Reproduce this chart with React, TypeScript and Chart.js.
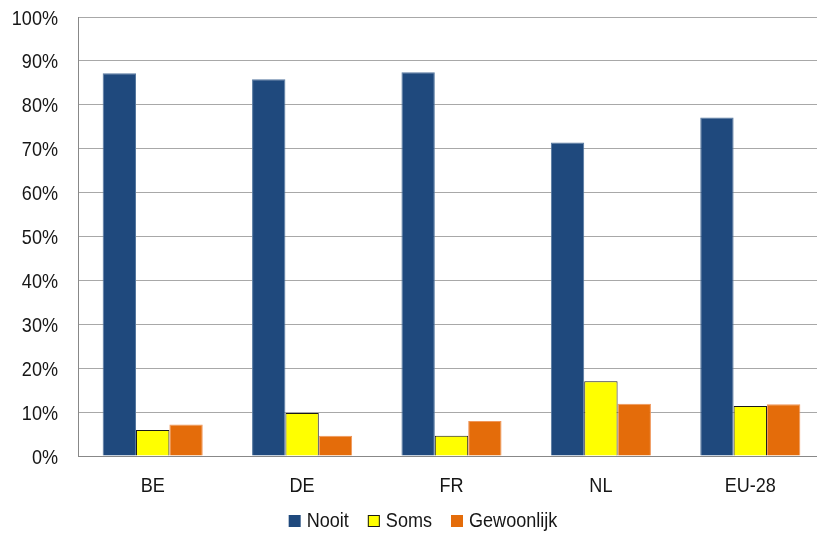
import React, { useEffect, useRef } from "react";
import { Chart, registerables } from "chart.js";

Chart.register(...registerables);

const categories = ["BE", "DE", "FR", "NL", "EU-28"];
const nooit = [87.2, 85.8, 87.4, 71.4, 77.1];
const soms = [5.9, 9.8, 4.6, 17.0, 11.4];
const gewoonlijk = [7.2, 4.6, 8.0, 11.9, 11.8];
const yTicks = [0, 10, 20, 30, 40, 50, 60, 70, 80, 90, 100];

const FONT_SIZE = 21;
const FONT = `${FONT_SIZE}px "Liberation Sans", Arial, sans-serif`;
const SX = 0.86; // horizontal condensing to mimic a narrow typeface
const TEXT_COLOR = "#161616";

function drawNarrow(ctx: CanvasRenderingContext2D, text: string, x: number, y: number, align: CanvasTextAlign) {
  ctx.save();
  ctx.translate(x, y);
  ctx.scale(SX, 1);
  ctx.textAlign = align;
  ctx.fillText(text, 0, 0);
  ctx.restore();
}

const narrowText = {
  id: "narrowText",
  afterDraw(chart: any) {
    const ctx: CanvasRenderingContext2D = chart.ctx;
    const xs = chart.scales.x;
    const ys = chart.scales.y;
    ctx.save();
    ctx.font = FONT;
    ctx.fillStyle = TEXT_COLOR;
    ctx.textBaseline = "alphabetic";
    // y tick labels
    yTicks.forEach((v) => {
      const py = ys.getPixelForValue(v);
      drawNarrow(ctx, `${v}%`, ys.right - 20, py + 7.5, "right");
    });
    // x tick labels
    chart.data.labels.forEach((c: string, i: number) => {
      const px = xs.getPixelForValue(i);
      drawNarrow(ctx, c, px, xs.top + 36, "center");
    });
    // legend
    const box = 12;
    const gapBoxText = 6;
    const gapItems = 19;
    const items = chart.data.datasets.map((d: any) => ({
      label: d.label,
      fill: d.backgroundColor,
      stroke: d.borderColor,
      w: ctx.measureText(d.label).width * SX,
    }));
    const total =
      items.reduce((s: number, it: any) => s + box + gapBoxText + it.w, 0) + gapItems * (items.length - 1);
    let x = 423 - total / 2;
    const baseline = 527;
    items.forEach((it: any) => {
      ctx.fillStyle = it.fill;
      ctx.fillRect(x, baseline - box, box, box);
      if (it.label === "Soms") {
        ctx.strokeStyle = "#1a1a1a";
        ctx.lineWidth = 1;
        ctx.strokeRect(x + 0.5, baseline - box + 0.5, box - 1, box - 1);
      }
      x += box + gapBoxText;
      ctx.fillStyle = TEXT_COLOR;
      drawNarrow(ctx, it.label, x, baseline, "left");
      x += it.w + gapItems;
    });
    ctx.restore();
  },
};

export default function App() {
  const ref = useRef<HTMLCanvasElement | null>(null);

  useEffect(() => {
    document.body.style.margin = "0";
    const ctx = ref.current;
    if (!ctx) return;
    const chart = new Chart(ctx, {
      type: "bar",
      data: {
        labels: categories,
        datasets: [
          {
            label: "Nooit",
            data: nooit,
            backgroundColor: "#1F497D",
            borderColor: "#56789F",
            borderWidth: 1,
          },
          {
            label: "Soms",
            data: soms,
            backgroundColor: "#FFFF00",
            borderColor: "#1a1a1a",
            borderWidth: 1,
          },
          {
            label: "Gewoonlijk",
            data: gewoonlijk,
            backgroundColor: "#E46C0A",
            borderColor: "#F0965A",
            borderWidth: 1,
          },
        ],
      },
      options: {
        animation: false,
        responsive: false,
        maintainAspectRatio: false,
        layout: { padding: { top: 17, right: 1, left: 0, bottom: 0 } },
        datasets: {
          bar: { categoryPercentage: 0.67, barPercentage: 1.0 },
        },
        plugins: {
          tooltip: { enabled: false },
          legend: { display: false },
        },
        scales: {
          x: {
            grid: { display: false, drawTicks: false },
            border: { display: true, color: "#888", width: 1 },
            ticks: { display: false },
            afterFit: (axis: any) => {
              axis.height = 78;
            },
          },
          y: {
            min: 0,
            max: 100,
            afterBuildTicks: (axis: any) => {
              axis.ticks = yTicks.map((v) => ({ value: v }));
            },
            grid: { color: "#a8a8a8", lineWidth: 1, drawTicks: false },
            border: { display: true, color: "#888", width: 1 },
            ticks: { display: false },
            afterFit: (axis: any) => {
              axis.width = 78;
            },
          },
        },
      },
      plugins: [narrowText],
    });
    return () => chart.destroy();
  }, []);

  return (
    <div style={{ width: 817, height: 534, overflow: "hidden", position: "relative" }}>
      <canvas ref={ref} width={826} height={534} style={{ display: "block" }} />
    </div>
  );
}
